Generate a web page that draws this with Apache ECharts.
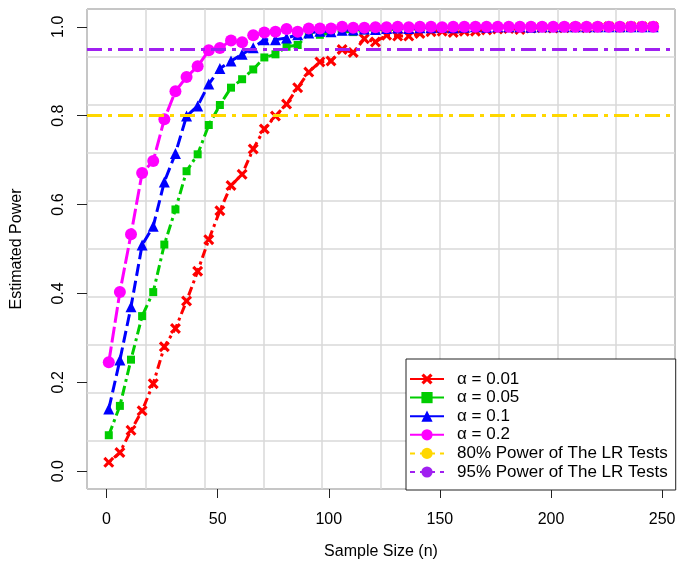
<!DOCTYPE html>
<html>
<head>
<meta charset="utf-8">
<script src="https://cdn.jsdelivr.net/npm/echarts@6/dist/echarts.min.js"></script>
<style>
  html, body { margin: 0; padding: 0; background: #fff; }
  #powerChart { width: 677px; height: 562px; }
</style>
</head>
<body>
<div id="powerChart"></div>
<script>
// sample sizes (x)
const sampleSizes = [1, 6, 11, 16, 21, 26, 31, 36, 41, 46, 51, 56, 61, 66, 71, 76, 81, 86, 91, 96,
  101, 106, 111, 116, 121, 126, 131, 136, 141, 146, 151, 156, 161, 166, 171, 176, 181, 186, 191, 196,
  201, 206, 211, 216, 221, 226, 231, 236, 241, 246]

// estimated power per alpha level
const power001 = [0.020, 0.042, 0.092, 0.136, 0.197, 0.280, 0.321, 0.383, 0.450, 0.521,
  0.586, 0.643, 0.668, 0.725, 0.770, 0.799, 0.826, 0.863, 0.898, 0.921,
  0.923, 0.949, 0.942, 0.973, 0.966, 0.981, 0.979, 0.979, 0.985, 0.989,
  0.990, 0.987, 0.990, 0.990, 0.993, 0.995, 0.996, 0.994, 0.997, 0.998,
  0.997, 0.998, 0.999, 0.998, 0.999, 1.000, 0.999, 1.000, 1.000, 1.000]
const power005 = [0.081, 0.147, 0.251, 0.349, 0.403, 0.510, 0.589, 0.675, 0.713, 0.779,
  0.824, 0.863, 0.882, 0.904, 0.931, 0.938, 0.955, 0.959, 0.984, 0.982,
  0.986, 0.990, 0.988, 0.992, 0.994, 0.993, 0.995, 0.996, 0.995, 0.997,
  0.996, 0.998, 0.997, 0.998, 0.999, 0.998, 0.999, 0.999, 1.000, 0.999,
  1.000, 1.000, 0.999, 1.000, 1.000, 1.000, 1.000, 1.000, 1.000, 1.000]
const power01 = [0.140, 0.250, 0.370, 0.509, 0.551, 0.651, 0.715, 0.799, 0.822, 0.871,
  0.906, 0.923, 0.938, 0.953, 0.971, 0.971, 0.975, 0.982, 0.986, 0.990,
  0.989, 0.992, 0.993, 0.995, 0.994, 0.996, 0.997, 0.996, 0.998, 0.998,
  0.999, 0.998, 0.999, 1.000, 0.999, 1.000, 1.000, 1.000, 0.999, 1.000,
  1.000, 1.000, 1.000, 1.000, 1.000, 1.000, 1.000, 1.000, 1.000, 1.000]
const power02 = [0.245, 0.403, 0.533, 0.671, 0.698, 0.792, 0.855, 0.887, 0.911, 0.947,
  0.952, 0.969, 0.965, 0.981, 0.987, 0.989, 0.995, 0.989, 0.996, 0.996,
  0.996, 1.000, 0.998, 0.998, 0.999, 0.999, 1.000, 0.999, 1.000, 1.000,
  0.999, 1.000, 1.000, 1.000, 1.000, 1.000, 1.000, 1.000, 1.000, 1.000,
  1.000, 1.000, 1.000, 1.000, 1.000, 1.000, 1.000, 1.000, 1.000, 1.000]

// reference power levels
const powerLevels = [0.8, 0.95]

const xTicks = [0, 50, 100, 150, 200, 250]
const yTicks = [0, 0.2, 0.4, 0.6, 0.8, 1.0]

// R style limits (4% padding)
const xMin = -8.8, xMax = 255.8
const yMin = -0.04, yMax = 1.04

const fontFam = 'Liberation Sans, Arial, sans-serif'
const crossPath = 'path://M2,0 L5,3 L8,0 L10,2 L7,5 L10,8 L8,10 L5,7 L2,10 L0,8 L3,5 L0,2 Z'
const levelDash = [15, 6, 4, 6]

const pairs = (ys) => sampleSizes.map((n, i) => [n, ys[i]])

const powerSeries = (name, ys, color, symbol, size, dash) => ({
  name: name,
  type: 'line',
  data: pairs(ys),
  symbol: symbol,
  symbolSize: size,
  showSymbol: true,
  lineStyle: { color: color, width: 3, type: dash },
  itemStyle: { color: color },
  emphasis: { disabled: true },
  animation: false
})

const levelSeries = (name, level, color) => ({
  name: name,
  type: 'line',
  data: [],
  symbol: 'circle',
  symbolSize: 8,
  lineStyle: { color: color, width: 3, type: levelDash },
  itemStyle: { color: color },
  markLine: {
    silent: true,
    symbol: 'none',
    label: { show: false },
    lineStyle: { color: color, width: 3, type: levelDash },
    data: [{ yAxis: level }]
  },
  animation: false
})

const chart = echarts.init(document.getElementById('powerChart'))
const option = {
  backgroundColor: '#fff',
  animation: false,
  grid: {
    left: 87, top: 9, right: 2, bottom: 73,
    outerBoundsMode: 'none',
    show: true, borderColor: '#222', borderWidth: 1, backgroundColor: 'transparent'
  },
  legend: {
    orient: 'vertical',
    left: 406, top: 359,
    padding: [11.5, 8, 9.5, 3],
    itemWidth: 34, itemHeight: 14, itemGap: 1.6,
    backgroundColor: '#fff',
    borderColor: '#222', borderWidth: 1, borderRadius: 0,
    textStyle: { fontFamily: fontFam, fontSize: 17, lineHeight: 17, color: '#000', padding: [0, 0, 0, 8] },
    data: [
      { name: 'α = 0.01', lineStyle: { type: 'solid' } },
      { name: 'α = 0.05', lineStyle: { type: 'solid' } },
      { name: 'α = 0.1', lineStyle: { type: 'solid' } },
      { name: 'α = 0.2', lineStyle: { type: 'solid' } },
      { name: '80% Power of The LR Tests', lineStyle: { type: [5, 5] } },
      { name: '95% Power of The LR Tests', lineStyle: { type: [5, 5] } }
    ]
  },
  xAxis: [
    {
      type: 'value', min: xMin, max: xMax, position: 'bottom',
      name: 'Sample Size (n)', nameLocation: 'middle', nameGap: 55,
      nameTextStyle: { fontFamily: fontFam, fontSize: 16, color: '#000' },
      axisLine: { show: false, onZero: false },
      axisTick: { show: true, length: 9, customValues: xTicks, lineStyle: { color: '#222' } },
      axisLabel: { customValues: xTicks, margin: 23, fontFamily: fontFam, fontSize: 16, color: '#000' },
      splitLine: { show: false }
    },
    {
      // grid lines, 10 equal cells
      type: 'value', min: xMin, max: xMax, interval: (xMax - xMin) / 10,
      axisLine: { show: false, onZero: false }, axisTick: { show: false }, axisLabel: { show: false },
      splitLine: { show: true, lineStyle: { color: '#d9d9d9', width: 1.5 } }
    }
  ],
  yAxis: [
    {
      type: 'value', min: yMin, max: yMax,
      name: 'Estimated Power', nameLocation: 'middle', nameGap: 62,
      nameTextStyle: { fontFamily: fontFam, fontSize: 16, color: '#000' },
      axisLine: { show: false, onZero: false },
      axisTick: { show: true, length: 10, customValues: yTicks, lineStyle: { color: '#222' } },
      axisLabel: {
        customValues: yTicks, rotate: 90, margin: 20,
        fontFamily: fontFam, fontSize: 16, color: '#000',
        formatter: (v) => v.toFixed(1)
      },
      splitLine: { show: false }
    },
    {
      type: 'value', min: yMin, max: yMax, interval: (yMax - yMin) / 10,
      axisLine: { show: false, onZero: false }, axisTick: { show: false }, axisLabel: { show: false },
      splitLine: { show: true, lineStyle: { color: '#d9d9d9', width: 1.5 } }
    }
  ],
  series: [
    powerSeries('α = 0.01', power001, '#ff0000', crossPath, 11, [3, 4, 9, 4]),
    powerSeries('α = 0.05', power005, '#00cd00', 'rect', 8, [10, 4, 3, 4]),
    powerSeries('α = 0.1', power01, '#0000ff', 'triangle', 11, [12, 5]),
    powerSeries('α = 0.2', power02, '#ff00ff', 'circle', 12, [16, 4]),
    levelSeries('80% Power of The LR Tests', powerLevels[0], '#ffd700'),
    levelSeries('95% Power of The LR Tests', powerLevels[1], '#a020f0')
  ]
}
chart.setOption(option)
</script>
</body>
</html>
